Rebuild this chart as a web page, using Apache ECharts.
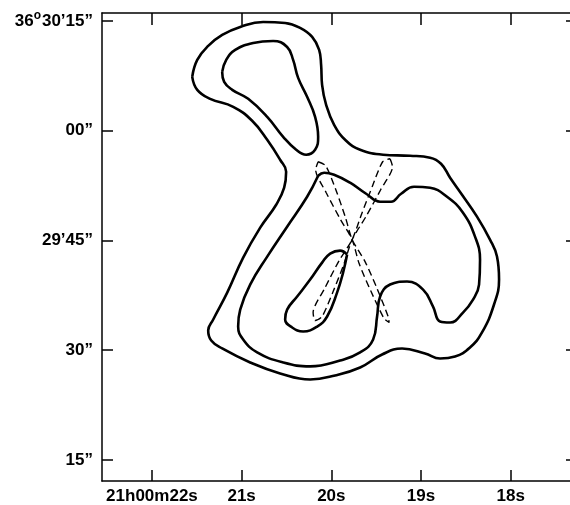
<!DOCTYPE html>
<html><head><meta charset="utf-8">
<script src="https://cdn.jsdelivr.net/npm/echarts@6/dist/echarts.min.js"></script>
<style>html,body{margin:0;padding:0;background:#fff}#c{width:570px;height:505px}</style>
</head><body><div id="c"></div>
<script>
// RA in seconds of time (21h00m xx s), Dec in arcsec above 36°29'00"
const raTicks = [22, 21, 20, 19, 18];
const raTickLabels = ['21h00m22s', '21s', '20s', '19s', '18s'];
const decTicks = [15, 30, 45, 60, 75];
const decTickLabels = ['15”', '30”', '29’45”', '00”', '36{sup|o}30’15”'];

const outerContour = [
  [21.551,67.36],[21.495,69.68],[21.373,71.59],[21.217,73.09],[21.016,74.18],[20.760,74.87],
  [20.515,74.73],[20.348,74.05],[20.214,72.82],[20.136,71.04],[20.114,69.00],[20.103,66.27],
  [20.058,63.54],[19.969,60.81],[19.835,58.63],[19.679,57.40],[19.423,56.72],[19.122,56.58],
  [18.899,56.31],[18.777,55.49],[18.676,53.58],[18.543,51.26],[18.376,48.26],[18.231,45.12],
  [18.153,42.80],[18.130,39.66],[18.186,36.25],[18.320,32.43],[18.454,30.38],[18.621,29.15],
  [18.788,28.88],[18.955,29.56],[19.211,30.24],[19.434,29.42],[19.679,27.65],[19.958,26.56],
  [20.236,26.01],[20.571,26.83],[20.905,28.33],[21.217,30.24],[21.339,31.33],[21.373,32.70],
  [21.317,34.20],[21.161,37.88],[20.983,42.66],[20.793,46.75],[20.615,49.89],[20.526,52.21],
  [20.504,54.40],[20.571,56.03],[20.715,58.76],[20.883,61.36],[21.094,63.27],[21.351,64.36],
  [21.495,65.59],[21.551,67.36]
];
const upperLobe = [
  [21.217,68.04],[21.172,69.68],[21.072,71.04],[20.871,72.00],[20.649,72.27],[20.493,71.45],
  [20.426,69.68],[20.370,67.22],[20.270,64.63],[20.181,61.90],[20.147,59.17],[20.181,57.40],
  [20.281,56.72],[20.392,57.40],[20.537,59.17],[20.715,61.90],[20.927,64.36],[21.105,65.59],
  [21.195,66.68],[21.217,68.04]
];
const middleContour = [
  [20.147,53.85],[20.080,54.26],[19.969,53.99],[19.791,52.90],[19.612,51.39],[19.456,50.30],
  [19.334,50.30],[19.222,51.39],[19.078,52.35],[18.899,52.21],[18.710,50.98],[18.532,48.80],
  [18.398,45.53],[18.342,42.39],[18.353,38.98],[18.420,36.93],[18.532,35.15],[18.676,33.79],
  [18.788,33.93],[18.866,35.97],[18.977,38.29],[19.156,39.39],[19.345,38.98],[19.456,37.34],
  [19.490,34.61],[19.534,31.47],[19.679,29.70],[19.902,28.60],[20.236,27.79],[20.537,28.33],
  [20.827,29.70],[20.983,31.47],[21.039,33.24],[21.016,35.56],[20.905,38.98],[20.715,42.80],
  [20.493,46.89],[20.270,50.98],[20.147,53.85]
];
const innerContour = [
  [19.824,43.07],[19.902,43.62],[20.013,43.21],[20.103,41.98],[20.236,39.66],[20.381,37.34],
  [20.493,35.56],[20.515,34.20],[20.437,33.11],[20.314,32.56],[20.158,33.24],[20.047,34.61],
  [19.936,37.88],[19.869,40.61],[19.824,43.07]
];
const beamA = [
  [20.147,55.76],[20.063,55.22],[19.950,51.94],[19.842,48.12],[19.768,45.12],[19.624,42.11],
  [19.490,38.43],[19.367,34.61],[19.356,33.79],[19.412,34.34],[19.557,38.02],[19.690,41.84],
  [19.768,45.12],[19.897,47.85],[20.057,51.53],[20.175,54.67],[20.147,55.76]
];
const beamB = [
  [19.345,56.17],[19.318,55.08],[19.450,51.94],[19.608,48.39],[19.768,45.12],[19.858,41.84],
  [19.980,38.02],[20.103,34.61],[20.181,34.06],[20.203,35.15],[20.069,38.57],[19.913,42.25],
  [19.768,45.12],[19.661,48.66],[19.540,52.49],[19.428,55.76],[19.345,56.17]
];

const font = {fontFamily: 'Liberation Sans', fontWeight: 'bold', fontSize: 17, color: '#000'};
const axLine = {show: true, lineStyle: {color: '#000', width: 1.5}};
const xMin = 17.339, xMax = 22.557, yMin = 12.13, yMax = 76.09;

function solid(data) {
  return {type: 'line', data: data, smooth: 0.45, symbol: 'none', silent: true,
    lineStyle: {color: '#000', width: 2.6}, xAxisIndex: 0, yAxisIndex: 0};
}
function dashed(data) {
  return {type: 'line', data: data, smooth: 0.25, symbol: 'none', silent: true,
    lineStyle: {color: '#000', width: 1.4, type: [7, 4]}, xAxisIndex: 0, yAxisIndex: 0};
}

const chart = echarts.init(document.getElementById('c'), null, {renderer: 'canvas'});
chart.setOption({
  animation: false,
  backgroundColor: '#fff',
  grid: {left: 102, right: 0, top: 13, bottom: 23},
  xAxis: [
    {type: 'value', position: 'bottom', inverse: true, min: xMin, max: xMax,
      axisLine: axLine, splitLine: {show: false},
      axisTick: {show: true, inside: true, length: 11, customValues: raTicks, lineStyle: {color: '#000', width: 1.5}},
      axisLabel: Object.assign({show: true, customValues: raTicks, margin: 7,
        formatter: v => raTickLabels[raTicks.indexOf(v)]}, font)},
    {type: 'value', position: 'top', inverse: true, min: xMin, max: xMax,
      axisLine: axLine, splitLine: {show: false},
      axisTick: {show: true, inside: true, length: 12, customValues: raTicks, lineStyle: {color: '#000', width: 1.5}},
      axisLabel: {show: false}}
  ],
  yAxis: [
    {type: 'value', position: 'left', min: yMin, max: yMax,
      axisLine: axLine, splitLine: {show: false},
      axisTick: {show: true, inside: true, length: 11, customValues: decTicks, lineStyle: {color: '#000', width: 1.5}},
      axisLabel: Object.assign({show: true, customValues: decTicks, margin: 9,
        formatter: v => decTickLabels[decTicks.indexOf(v)],
        rich: {sup: {fontFamily: 'Liberation Sans', fontWeight: 'bold', fontSize: 12, color: '#000', verticalAlign: 'top', padding: [0, 1, 10, 0]}}}, font)},
    {type: 'value', position: 'right', min: yMin, max: yMax,
      axisLine: {show: false}, splitLine: {show: false},
      axisTick: {show: true, inside: true, length: 4, customValues: decTicks, lineStyle: {color: '#000', width: 1.5}},
      axisLabel: {show: false}}
  ],
  series: [
    solid(outerContour), solid(upperLobe), solid(middleContour), solid(innerContour),
    dashed(beamA), dashed(beamB)
  ]
});
</script>
</body></html>
